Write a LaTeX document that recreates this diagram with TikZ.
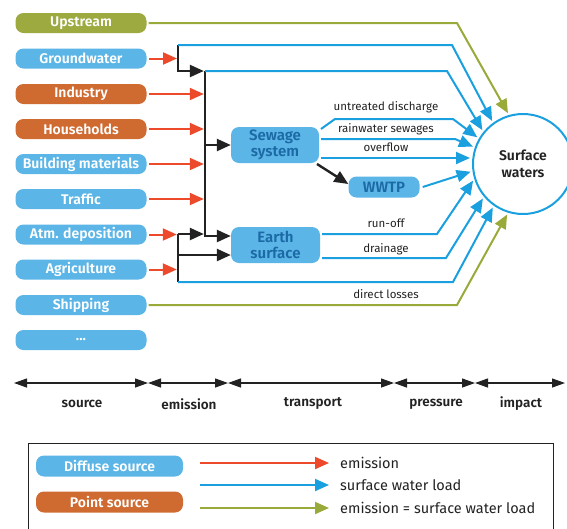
\documentclass[tikz,border=0pt]{standalone}
\usepackage{fontspec}
\setmainfont{Fira Sans}[BoldFont={Fira Sans SemiBold}]
\usetikzlibrary{arrows.meta}
\definecolor{boxblue}{HTML}{5BB5E6}
\definecolor{boxorange}{HTML}{CF6A31}
\definecolor{boxolive}{HTML}{9DAA3F}
\definecolor{lblue}{HTML}{1AA0DF}
\definecolor{lred}{HTML}{EC4A2A}
\definecolor{lolive}{HTML}{9AAA3A}
\definecolor{dblue}{HTML}{1B6AA5}
\definecolor{ink}{HTML}{222222}
\begin{document}
\begin{tikzpicture}[x=1pt,y=-1pt,
 src/.style={rounded corners=8pt, minimum width=131pt, minimum height=20pt, inner sep=0pt, text=white, font=\bfseries\fontsize{14}{16}\selectfont},
 diffuse/.style={src, fill=boxblue},
 pointsrc/.style={src, fill=boxorange},
 upsrc/.style={src, fill=boxolive},
 midbox/.style={rounded corners=8pt, fill=boxblue, text=dblue, font=\bfseries\fontsize{15}{16}\selectfont, inner sep=0pt, align=center},
 arrowtip/.style={-{Triangle[length=14pt,width=12pt]}},
 redarr/.style={draw=lred, line width=2pt, arrowtip},
 bluearr/.style={draw=lblue, line width=2pt, arrowtip, shorten >=2pt},
 olivearr/.style={draw=lolive, line width=2pt, arrowtip, shorten >=2pt},
 blk/.style={draw=ink, line width=2.4pt},
 blkarr/.style={blk, arrowtip},
 lbl/.style={text=ink, font=\fontsize{11.5}{13}\selectfont, inner sep=0pt},
 tlarr/.style={draw=ink, line width=1.3pt, {Triangle[length=13pt,width=9pt]}-{Triangle[length=13pt,width=9pt]}},
 tlbl/.style={text=ink, font=\bfseries\fontsize{13.5}{15}\selectfont, inner sep=0pt},
 leglbl/.style={text=ink, font=\fontsize{14.5}{16}\selectfont, inner sep=0pt, anchor=west}
]
\useasboundingbox (0,0) rectangle (567,528);

% sources
\node[upsrc] (up) at (81,23) {Upstream};
\node[diffuse] (gw) at (81,58.5) {Groundwater};
\node[pointsrc] (ind) at (81,94) {Industry};
\node[pointsrc] (hh) at (81,129) {Households};
\node[diffuse] (bm) at (81,164) {Building materials};
\node[diffuse] (tr) at (81,199) {Traffic};
\node[diffuse] (atm) at (81,234.5) {Atm. deposition};
\node[diffuse] (agr) at (81,269.5) {Agriculture};
\node[diffuse] (ship) at (81,305) {Shipping};
\node[diffuse] (etc) at (81,340) {...};

% middle boxes
\node[midbox, minimum width=88pt, minimum height=36pt] (sew) at (275,145) {Sewage\\system};
\node[midbox, minimum width=89pt, minimum height=36pt] (earth) at (275.5,245) {Earth\\surface};
\node[midbox, minimum width=71pt, minimum height=21pt] (wwtp) at (384,187) {WWTP};
\node[circle, draw=lblue, line width=2pt, minimum size=100pt, inner sep=0pt, align=center, text=ink, font=\bfseries\fontsize{14}{17}\selectfont] (sw) at (523,164) {Surface\\waters};

% junction coordinates
\coordinate (v1t) at (178,45);
\coordinate (v1b) at (178,71);
\coordinate (v2t) at (205,71);
\coordinate (v2b) at (205,236);
\coordinate (v3t) at (178,234);
\coordinate (v3m) at (178,255);
\coordinate (v3b) at (178,282);

% red emission arrows
\draw[redarr, shorten <=2pt, shorten >=1pt] (gw.east) -- (gw.east -| v1t);
\draw[redarr, shorten <=2pt, shorten >=1.2pt] (ind.east) -- (ind.east -| v2t);
\draw[redarr, shorten <=2pt, shorten >=1.2pt] (hh.east) -- (hh.east -| v2t);
\draw[redarr, shorten <=2pt, shorten >=1.2pt] (bm.east) -- (bm.east -| v2t);
\draw[redarr, shorten <=2pt, shorten >=1.2pt] (tr.east) -- (tr.east -| v2t);
\draw[redarr, shorten <=2pt, shorten >=1.2pt] (atm.east) -- (atm.east -| v3t);
\draw[redarr, shorten <=2pt, shorten >=1.2pt] (agr.east) -- (agr.east -| v3t);

% black collectors
\draw[blkarr, shorten >=1.2pt] (v1t) -- (v1b) -- (v2t);
\draw[blkarr] (v2t) -- (v2b) -- (v2b -| earth.west);
\draw[blkarr] (v2t |- sew.west) -- (sew.west);
\draw[blk] (v3t) -- (v3b);
\draw[blkarr, shorten >=1.2pt] (v3t) -- (v3t -| v2t);
\draw[blkarr] (v3m) -- (v3m -| earth.west);
\draw[blkarr] (317,164) -- ([yshift=3pt]wwtp.west);

% blue surface water loads
\draw[bluearr] (v1t) -- (452,45) -- (sw.126);
\draw[bluearr] (v2t) -- (447,71) -- (sw.141);
\draw[bluearr] (321,129) -- (335,119) -- (453,119) -- (sw.150);
\draw[bluearr] (321,139) -- (455,139) -- (sw.161);
\draw[bluearr] (321,158) -- (sw.west |- 0,158);
\draw[bluearr] ([xshift=3pt]wwtp.east) -- (sw.188);
\draw[bluearr] (322,234) -- (437,234) -- (sw.197);
\draw[bluearr] (322,258) -- (446,258) -- (sw.220);
\draw[bluearr] (v3b) -- (453,282) -- (sw.235);

% olive direct
\draw[olivearr, shorten <=2pt] (up.east) -- (457,23) -- (sw.106);
\draw[olivearr, shorten <=2pt] (ship.east) -- (457,305) -- (sw.253);

% labels
\node[lbl] (l1) at (386,107) {untreated discharge};
\node[lbl] (l2) at (386,129) {rainwater sewages};
\node[lbl] (l3) at (386,147) {overflow};
\node[lbl] (l4) at (386,223) {run-off};
\node[lbl] (l5) at (386,249) {drainage};
\node[lbl] (l6) at (386,294) {direct losses};

% timeline
\coordinate (t0) at (14,383);
\coordinate (t1) at (148,383);
\coordinate (t2) at (228,383);
\coordinate (t3) at (394,383);
\coordinate (t4) at (475,383);
\coordinate (t5) at (565,383);
\draw[tlarr] (t0) -- (t1);
\draw[tlarr] (t1) -- (t2);
\draw[tlarr] (t2) -- (t3);
\draw[tlarr] (t3) -- (t4);
\draw[tlarr] (t4) -- (t5);
\node[tlbl] (p1) at (82,404) {source};
\node[tlbl] (p2) at (189,404) {emission};
\node[tlbl] (p3) at (313,404) {transport};
\node[tlbl] (p4) at (436,404) {pressure};
\node[tlbl] (p5) at (521,404) {impact};

% legend
\draw[ink, line width=1pt] (28,443) rectangle (553,540);
\node[diffuse, minimum width=147pt, minimum height=21pt] (ld) at (109.5,466) {Diffuse source};
\node[pointsrc, minimum width=147pt, minimum height=21pt] (lp) at (109.5,502) {Point source};
\coordinate (a1s) at (200,463); \coordinate (a1e) at (329,463);
\coordinate (a2s) at (200,485); \coordinate (a2e) at (329,485);
\coordinate (a3s) at (200,508); \coordinate (a3e) at (329,508);
\draw[redarr] (a1s) -- (a1e);
\draw[draw=lblue, line width=2pt, arrowtip] (a2s) -- (a2e);
\draw[draw=lolive, line width=2pt, arrowtip] (a3s) -- (a3e);
\node[leglbl] (e1) at (340,463) {emission};
\node[leglbl] (e2) at (340,485) {surface water load};
\node[leglbl] (e3) at (340,508) {emission = surface water load};
\end{tikzpicture}
\end{document}
